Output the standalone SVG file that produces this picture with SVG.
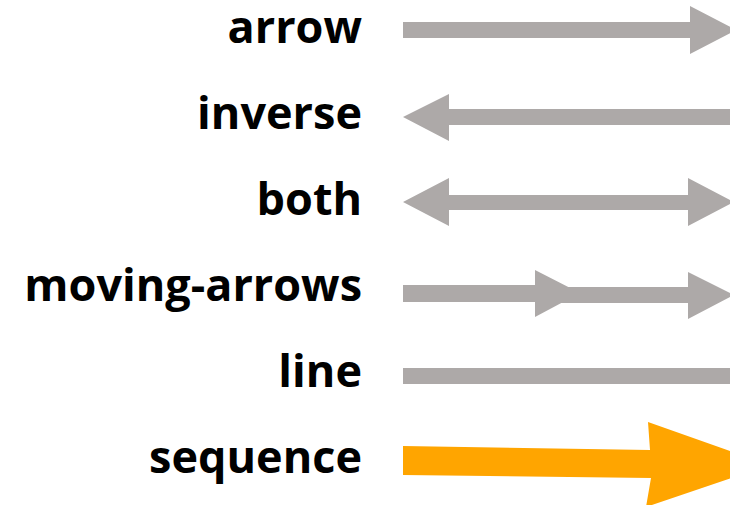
<svg xmlns="http://www.w3.org/2000/svg" width="730" height="505" viewBox="0 0 730 505">
<style>
text{font-family:"Open Sans","DejaVu Sans",sans-serif;font-weight:bold;font-size:45px;fill:#000;text-anchor:end}
.g{fill:#ADA9A8}
.o{fill:#FFA500}
</style>
<rect width="730" height="505" fill="#fff"/>
<g id="labels">
<g id="n-arrow"><text x="362" y="43">arrow</text></g>
<g id="n-inverse"><text x="362" y="129">inverse</text></g>
<g id="n-both"><text x="362" y="215">both</text></g>
<g id="n-moving"><text x="362" y="301">moving-arrows</text></g>
<g id="n-line"><text x="362" y="387">line</text></g>
<g id="n-sequence"><text x="362" y="473">sequence</text></g>
</g>
<g id="connectors">
<polygon class="g" points="403,22 690,22 690,6 736,30 690,54 690,38 403,38"/>
<polygon class="g" points="730,109 449,109 449,94 403,117 449,141 449,125 730,125"/>
<polygon class="g" points="449,195 688,195 688,178 734,202 688,226 688,210 449,210 449,226 403,202 449,178"/>
<polygon class="g" points="403,285 535,285 535,270 580,293 535,317 535,302 403,302"/>
<polygon class="g" points="560,287 688,287 688,272 734,295 688,319 688,303 560,303"/>
<rect class="g" x="403" y="368" width="327" height="16"/>
<polygon class="o" points="403,446 650,450 648,422 770,465 646,507 651,478 403,475"/>
</g>
</svg>
